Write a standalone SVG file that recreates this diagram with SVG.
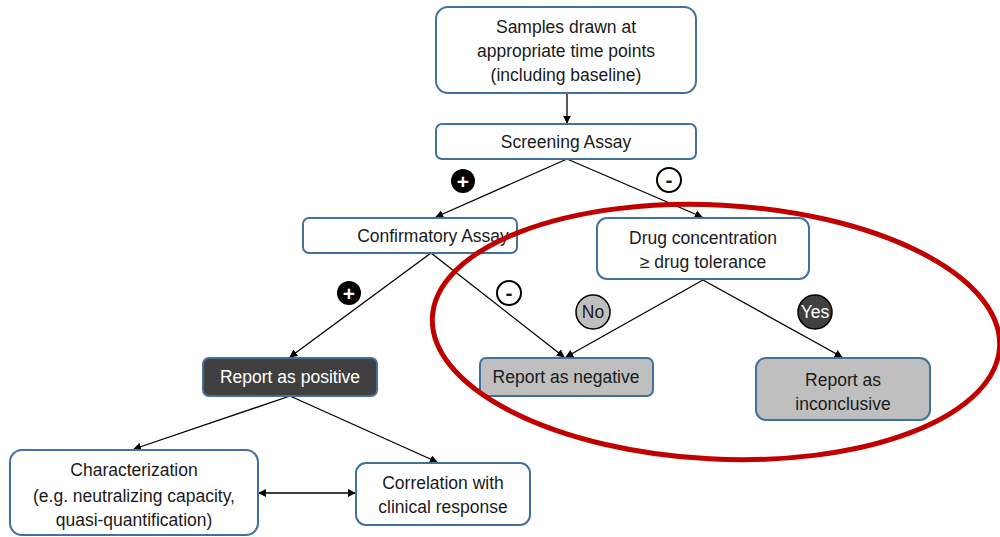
<svg xmlns="http://www.w3.org/2000/svg" width="1000" height="537" viewBox="0 0 1000 537">
<defs>
<style>
.box{fill:#fff;stroke:#41719c;stroke-width:2}
.dark{fill:#404040;stroke:#41719c;stroke-width:2}
.grey{fill:#bfbfbf;stroke:#41719c;stroke-width:2}
text{font-family:"Liberation Sans",Arial,sans-serif;font-size:17.5px;fill:#1a1a1a;text-anchor:middle;dominant-baseline:central}
.wt{fill:#fff}
.con{stroke:#000;stroke-width:1.3;fill:none}
.sym{font-size:21px;font-weight:bold}
</style>
<marker id="ah" viewBox="0 0 10 10" refX="9" refY="5" markerWidth="8" markerHeight="8" orient="auto-start-reverse" markerUnits="userSpaceOnUse">
<path d="M0,0 L10,5 L0,10 z" fill="#000"/>
</marker>
</defs>
<rect width="1000" height="537" fill="#fff"/>
<g id="connectors">
<line class="con" x1="567" y1="93" x2="567" y2="123" marker-end="url(#ah)"/>
<line class="con" x1="567" y1="159" x2="436" y2="217" marker-end="url(#ah)"/>
<line class="con" x1="567" y1="159" x2="702" y2="217" marker-end="url(#ah)"/>
<line class="con" x1="431" y1="253" x2="290" y2="357" marker-end="url(#ah)"/>
<line class="con" x1="431" y1="253" x2="564" y2="357" marker-end="url(#ah)"/>
<line class="con" x1="703" y1="280" x2="566" y2="357" marker-end="url(#ah)"/>
<line class="con" x1="703" y1="280" x2="842" y2="357" marker-end="url(#ah)"/>
<line class="con" x1="290" y1="396" x2="134" y2="449" marker-end="url(#ah)"/>
<line class="con" x1="290" y1="396" x2="437" y2="462" marker-end="url(#ah)"/>
<line class="con" x1="259" y1="493" x2="355" y2="493" marker-start="url(#ah)" marker-end="url(#ah)"/>
</g>
<g id="samples"><rect class="box" x="436" y="7" width="260" height="86" rx="12"/>
<text x="566" y="27">Samples drawn at</text><text x="566" y="51">appropriate time points</text><text x="566" y="75">(including baseline)</text></g>
<g id="screening"><rect class="box" x="436" y="124" width="260" height="35" rx="6"/><text x="566" y="142">Screening Assay</text></g>
<g id="confirmatory"><rect class="box" x="303" y="218" width="214" height="35" rx="6"/><text x="433" y="236">Confirmatory Assay</text></g>
<g id="drugconc"><rect class="box" x="597" y="218" width="212" height="61" rx="10"/><text x="703" y="238">Drug concentration</text><text x="703" y="262">≥ drug tolerance</text></g>
<g id="positive"><rect class="dark" x="203" y="358" width="174" height="38" rx="6"/><text class="wt" x="290" y="377">Report as positive</text></g>
<g id="negative"><rect class="grey" x="480" y="358" width="173" height="38" rx="6"/><text x="566" y="377">Report as negative</text></g>
<g id="inconclusive"><rect class="grey" x="756" y="358" width="174" height="62" rx="10"/><text x="843" y="380">Report as</text><text x="843" y="404">inconclusive</text></g>
<g id="characterization"><rect class="box" x="10" y="450" width="248" height="85" rx="12"/><text x="134" y="470">Characterization</text><text x="134" y="496">(e.g. neutralizing capacity,</text><text x="134" y="520">quasi-quantification)</text></g>
<g id="correlation"><rect class="box" x="356" y="463" width="174" height="62" rx="10"/><text x="443" y="483">Correlation with</text><text x="443" y="507">clinical response</text></g>
<g id="plus1"><circle cx="463" cy="181" r="12" fill="#000"/><text class="wt sym" x="463" y="181">+</text></g>
<g id="minus1"><circle cx="669" cy="180" r="12" fill="#fff" stroke="#000" stroke-width="2"/><text class="sym" x="669" y="179">-</text></g>
<g id="plus2"><circle cx="349" cy="293" r="12" fill="#000"/><text class="wt sym" x="349" y="293">+</text></g>
<g id="minus2"><circle cx="509" cy="293" r="12" fill="#fff" stroke="#000" stroke-width="2"/><text class="sym" x="509" y="292">-</text></g>
<g id="no"><circle cx="593" cy="312" r="17" fill="#bfbfbf" stroke="#000" stroke-width="1.5"/><text x="593" y="312">No</text></g>
<g id="yes"><circle cx="815" cy="312" r="17" fill="#404040" stroke="#000" stroke-width="1.5"/><text class="wt" x="815" y="312">Yes</text></g>
<ellipse id="highlight" cx="716" cy="332" rx="284" ry="127" transform="rotate(3 716 332)" fill="none" stroke="#c00000" stroke-width="5"/>
</svg>
